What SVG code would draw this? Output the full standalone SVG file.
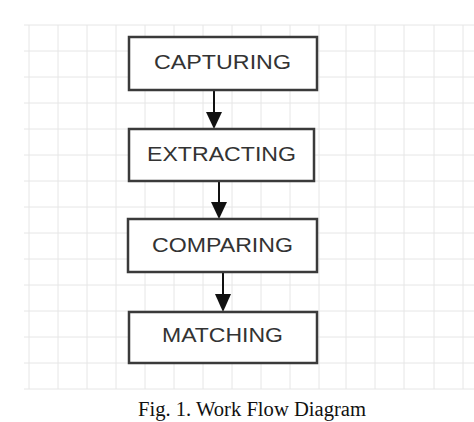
<svg xmlns="http://www.w3.org/2000/svg" width="474" height="422" viewBox="0 0 474 422">
<style>
.grid line{stroke:#e6e6e6;stroke-width:1}
.box{fill:#ffffff;stroke:#3a3a3a;stroke-width:2.5}
.lbl{font-family:"Liberation Sans",Arial,sans-serif;font-size:21px;fill:#333333;text-anchor:middle}
.edge{stroke:#111111;stroke-width:2;fill:none}
.head{fill:#111111}
.cap{font-family:"Liberation Serif","Times New Roman",serif;font-size:20px;fill:#111111}
</style>
<rect width="474" height="422" fill="#ffffff"/>
<g class="grid">
<line x1="24" y1="25" x2="474" y2="25"/>
<line x1="24" y1="51" x2="474" y2="51"/>
<line x1="24" y1="77" x2="474" y2="77"/>
<line x1="24" y1="103" x2="474" y2="103"/>
<line x1="24" y1="129" x2="474" y2="129"/>
<line x1="24" y1="155" x2="474" y2="155"/>
<line x1="24" y1="181" x2="474" y2="181"/>
<line x1="24" y1="207" x2="474" y2="207"/>
<line x1="24" y1="233" x2="474" y2="233"/>
<line x1="24" y1="259" x2="474" y2="259"/>
<line x1="24" y1="285" x2="474" y2="285"/>
<line x1="24" y1="311" x2="474" y2="311"/>
<line x1="24" y1="337" x2="474" y2="337"/>
<line x1="24" y1="363" x2="474" y2="363"/>
<line x1="24" y1="389" x2="474" y2="389"/>
<line x1="29" y1="25" x2="29" y2="389"/>
<line x1="58" y1="25" x2="58" y2="389"/>
<line x1="87" y1="25" x2="87" y2="389"/>
<line x1="116" y1="25" x2="116" y2="389"/>
<line x1="145" y1="25" x2="145" y2="389"/>
<line x1="174" y1="25" x2="174" y2="389"/>
<line x1="203" y1="25" x2="203" y2="389"/>
<line x1="232" y1="25" x2="232" y2="389"/>
<line x1="261" y1="25" x2="261" y2="389"/>
<line x1="290" y1="25" x2="290" y2="389"/>
<line x1="319" y1="25" x2="319" y2="389"/>
<line x1="346" y1="25" x2="346" y2="389"/>
<line x1="375" y1="25" x2="375" y2="389"/>
<line x1="404" y1="25" x2="404" y2="389"/>
<line x1="434" y1="25" x2="434" y2="389"/>
<line x1="463" y1="25" x2="463" y2="389"/>
</g>
<g id="connectors">
<line class="edge" x1="214" y1="90" x2="214" y2="113"/>
<path class="head" d="M206,112 L222,112 L214,129 Z"/>
<line class="edge" x1="219" y1="181" x2="219" y2="203"/>
<path class="head" d="M211,202 L227,202 L219,219 Z"/>
<line class="edge" x1="223" y1="272" x2="223" y2="295"/>
<path class="head" d="M215,294 L231,294 L223,312 Z"/>
</g>
<g id="capturing">
<rect class="box" x="129" y="37" width="188" height="53"/>
<text class="lbl" x="222.5" y="69" textLength="137" lengthAdjust="spacingAndGlyphs">CAPTURING</text>
</g>
<g id="extracting">
<rect class="box" x="129" y="129" width="185" height="52"/>
<text class="lbl" x="221.5" y="161" textLength="149" lengthAdjust="spacingAndGlyphs">EXTRACTING</text>
</g>
<g id="comparing">
<rect class="box" x="128" y="219" width="189" height="53"/>
<text class="lbl" x="222.5" y="252" textLength="141" lengthAdjust="spacingAndGlyphs">COMPARING</text>
</g>
<g id="matching">
<rect class="box" x="129" y="312" width="188" height="51"/>
<text class="lbl" x="222.5" y="342" textLength="121" lengthAdjust="spacingAndGlyphs">MATCHING</text>
</g>
<text class="cap" x="138" y="416" textLength="228" lengthAdjust="spacingAndGlyphs">Fig. 1. Work Flow Diagram</text>
</svg>
